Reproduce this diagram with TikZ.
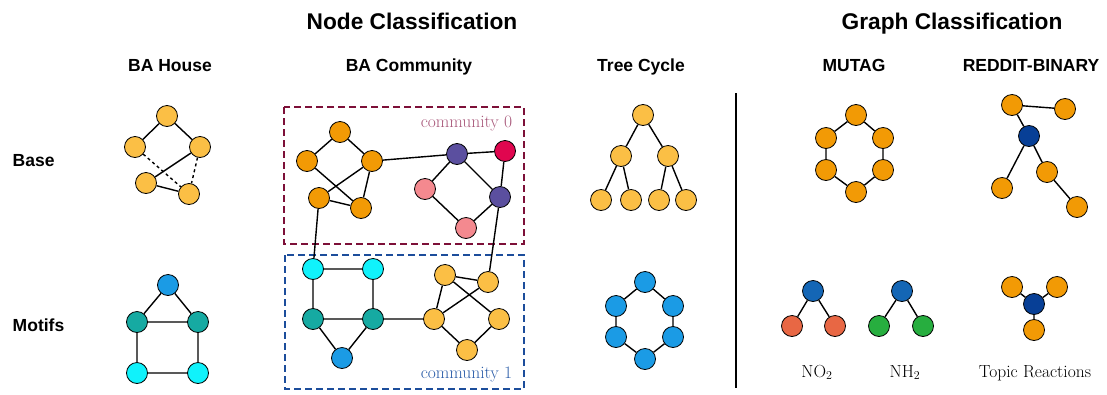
\documentclass[tikz,border=0pt]{standalone}
\usepackage{fontspec}
\setsansfont{Liberation Sans}
\usepackage{xcolor}
\usepackage{tikz}
\usetikzlibrary{backgrounds}
\usepackage{amsmath}

\definecolor{orgA}{HTML}{F29A05}
\definecolor{orgB}{HTML}{FBBF45}
\definecolor{tealc}{HTML}{16AAA2}
\definecolor{cyanc}{HTML}{10F2FB}
\definecolor{bluec}{HTML}{1B9BE5}
\definecolor{purpc}{HTML}{5B4F9F}
\definecolor{redc}{HTML}{E0064F}
\definecolor{pinkc}{HTML}{F4898F}
\definecolor{navyc}{HTML}{073F96}
\definecolor{mblue}{HTML}{1466B5}
\definecolor{redorg}{HTML}{E86744}
\definecolor{greenc}{HTML}{27AE3F}
\definecolor{boxzero}{HTML}{7D1038}
\definecolor{txtzero}{HTML}{A8587A}
\definecolor{boxone}{HTML}{1C4D9B}
\definecolor{txtone}{HTML}{2A5CA8}

\begin{document}
\begin{tikzpicture}[thick,x=1pt,y=-1pt]
  \tikzstyle{vertex} = [draw,shape=circle,minimum size=21pt,inner sep=0pt,line width=0.8pt]
  \tikzstyle{oa} = [vertex,fill=orgA]
  \tikzstyle{ob} = [vertex,fill=orgB]
  \tikzstyle{tl} = [vertex,fill=tealc]
  \tikzstyle{cy} = [vertex,fill=cyanc]
  \tikzstyle{bl} = [vertex,fill=bluec]
  \tikzstyle{pu} = [vertex,fill=purpc]
  \tikzstyle{rd} = [vertex,fill=redc]
  \tikzstyle{pk} = [vertex,fill=pinkc]
  \tikzstyle{nv} = [vertex,fill=navyc]
  \tikzstyle{mb} = [vertex,fill=mblue]
  \tikzstyle{ro} = [vertex,fill=redorg]
  \tikzstyle{gr} = [vertex,fill=greenc]
  \tikzstyle{edge} = [line width=1.4pt]
  \tikzstyle{title} = [font=\fontsize{22.7}{27}\selectfont\sffamily\bfseries,anchor=base]
  \tikzstyle{header} = [font=\fontsize{17.5}{21}\selectfont\sffamily\bfseries,anchor=base]
  \tikzstyle{caption} = [font=\fontsize{17.5}{21}\selectfont,anchor=base]
  \tikzstyle{community} = [dashed,dash pattern=on 7pt off 4pt,line width=1.8pt]
  %
  \useasboundingbox (0,0) rectangle (1107,394);

  % Titles.
  \node[title] (nodecls) at (412,29.5) {Node Classification};
  \node[title] (graphcls) at (952,29.5) {Graph Classification};
  \node[header] (bahouse) at (170,71) {BA House};
  \node[header] (bacomm) at (409,71) {BA Community};
  \node[header] (treecyc) at (641,71) {Tree Cycle};
  \node[header] (mutag) at (854,71) {MUTAG};
  \node[header] (reddit) at (1031,71) {REDDIT-BINARY};
  \node[header,anchor=base west] (base) at (9,166) {Base};
  \node[header,anchor=base west] (motifs) at (9,331) {Motifs};

  % BA House, base.
  \node[ob] (hb1) at (167,116) {};
  \node[ob] (hb2) at (135,147) {};
  \node[ob] (hb3) at (200,147) {};
  \node[ob] (hb4) at (146,183) {};
  \node[ob] (hb5) at (189,194) {};

  % BA House, motif.
  \node[bl] (hm1) at (168,285) {};
  \node[tl] (hm2) at (137,322) {};
  \node[tl] (hm3) at (198,322) {};
  \node[cy] (hm4) at (137,373) {};
  \node[cy] (hm5) at (198,373) {};

  % Community 0.
  \node[oa] (a1) at (340,132) {};
  \node[oa] (a2) at (307,161) {};
  \node[oa] (a3) at (372,161) {};
  \node[oa] (a4) at (319,198) {};
  \node[oa] (a5) at (361,208) {};
  \node[pu] (p1) at (457,154) {};
  \node[rd] (r1) at (505,151) {};
  \node[pu] (p2) at (500,197) {};
  \node[pk] (k1) at (425,189) {};
  \node[pk] (k2) at (466,228) {};

  % Community 1.
  \node[cy] (b1) at (313,269) {};
  \node[cy] (b2) at (373,269) {};
  \node[tl] (b3) at (313,319) {};
  \node[tl] (b4) at (373,319) {};
  \node[bl] (b5) at (342,358) {};
  \node[ob] (d1) at (445,275) {};
  \node[ob] (d2) at (488,282) {};
  \node[ob] (d3) at (434,319) {};
  \node[ob] (d4) at (499,319) {};
  \node[ob] (d5) at (467,350) {};

  \node[caption,anchor=base east,text=txtzero] (comm0) at (516,127) {community 0};
  \node[caption,anchor=base east,text=txtone] (comm1) at (516,378) {community 1};

  % Tree Cycle, base.
  \node[ob] (t1) at (643,115) {};
  \node[ob] (t2) at (621,156) {};
  \node[ob] (t3) at (668,156) {};
  \node[ob] (t4) at (601,200) {};
  \node[ob] (t5) at (631,200) {};
  \node[ob] (t6) at (659,200) {};
  \node[ob] (t7) at (686,200) {};

  % Tree Cycle, motif.
  \node[bl] (y1) at (645,282) {};
  \node[bl] (y2) at (616,306) {};
  \node[bl] (y3) at (673,306) {};
  \node[bl] (y4) at (616,337) {};
  \node[bl] (y5) at (673,337) {};
  \node[bl] (y6) at (645,359) {};

  % Separator.
  \coordinate (sep1) at (736,93);
  \coordinate (sep2) at (736,388);

  % MUTAG.
  \node[oa] (m1) at (856,115) {};
  \node[oa] (m2) at (826,138) {};
  \node[oa] (m3) at (883,138) {};
  \node[oa] (m4) at (826,170) {};
  \node[oa] (m5) at (883,170) {};
  \node[oa] (m6) at (856,192) {};
  \node[mb] (n1) at (813,291) {};
  \node[ro] (n2) at (792,326) {};
  \node[ro] (n3) at (835,326) {};
  \node[mb] (g1) at (902,291) {};
  \node[gr] (g2) at (879,326) {};
  \node[gr] (g3) at (923,326) {};
  \node[caption] (no2) at (817,377) {NO$_2$};
  \node[caption] (nh2) at (905,377) {NH$_2$};

  % REDDIT-BINARY.
  \node[oa] (e1) at (1012,105) {};
  \node[oa] (e2) at (1065,109) {};
  \node[nv] (e3) at (1029,136) {};
  \node[oa] (e4) at (1002,188) {};
  \node[oa] (e5) at (1047,172) {};
  \node[oa] (e6) at (1077,207) {};
  \node[oa] (o1) at (1012,287) {};
  \node[oa] (o2) at (1057,287) {};
  \node[nv] (o3) at (1034,304) {};
  \node[oa] (o4) at (1034,330) {};
  \node[caption] (topic) at (1035,377) {Topic Reactions};

  \begin{pgfonlayer}{background}
      % Community boxes.
      \draw[community,draw=boxzero] (284,107) rectangle (524,244);
      \draw[community,draw=boxone] (285,255) rectangle (524,389);
      % Draw edges.
      \draw[edge] (hb1) -- (hb2) (hb1) -- (hb3) (hb3) -- (hb4) (hb4) -- (hb5);
      \draw[edge,dashed] (hb2) -- (hb5) (hb3) -- (hb5);
      \draw[edge] (hm1) -- (hm2) (hm1) -- (hm3) (hm2) -- (hm3) (hm2) -- (hm4) (hm3) -- (hm5) (hm4) -- (hm5);
      \draw[edge] (a1) -- (a2) (a1) -- (a3) (a2) -- (a5) (a3) -- (a4) (a3) -- (a5) (a4) -- (a5);
      \draw[edge] (a3) -- (p1) (p1) -- (r1) (p1) -- (k1) (p1) -- (p2) (r1) -- (p2) (k1) -- (k2) (k2) -- (p2);
      \draw[edge] (a4) -- (b1) (p2) -- (d2);
      \draw[edge] (b1) -- (b2) (b1) -- (b3) (b2) -- (b4) (b3) -- (b4) (b3) -- (b5) (b4) -- (b5) (b4) -- (d3);
      \draw[edge] (d1) -- (d2) (d1) -- (d3) (d1) -- (d4) (d2) -- (d3) (d3) -- (d5) (d5) -- (d4);
      \draw[edge] (t1) -- (t2) (t1) -- (t3) (t2) -- (t4) (t2) -- (t5) (t3) -- (t6) (t3) -- (t7);
      \draw[edge] (y1) -- (y2) (y1) -- (y3) (y2) -- (y4) (y3) -- (y5) (y4) -- (y6) (y5) -- (y6);
      \draw[line width=1.5pt] (sep1) -- (sep2);
      \draw[edge] (m1) -- (m2) (m1) -- (m3) (m2) -- (m4) (m3) -- (m5) (m4) -- (m6) (m5) -- (m6);
      \draw[edge] (n1) -- (n2) (n1) -- (n3) (g1) -- (g2) (g1) -- (g3);
      \draw[edge] (e1) -- (e2) (e1) -- (e3) (e3) -- (e4) (e3) -- (e5) (e5) -- (e6);
      \draw[edge] (o1) -- (o3) (o2) -- (o3) (o3) -- (o4);
  \end{pgfonlayer}
  %
\end{tikzpicture}
\end{document}
